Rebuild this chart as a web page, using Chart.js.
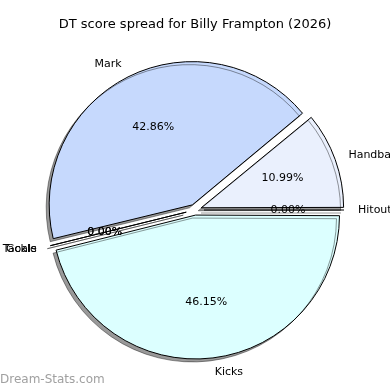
<!DOCTYPE html>
<html>
<head>
<meta charset="utf-8">
<script src="https://cdn.jsdelivr.net/npm/chart.js@4.4.1/dist/chart.umd.min.js"></script>
<style>
  body { margin: 0; background: #fff; }
  canvas { display: block; }
</style>
</head>
<body>
<canvas id="pie" width="390" height="390"></canvas>
<script>
// slices in clockwise order starting at 3 o'clock
const categories = ['Hitout', 'Kicks', 'Goals', 'Tackle', 'Mark', 'Handball'];
const scores = [0, 46.15, 0, 0, 42.86, 10.99];
const sliceColors = ['#ffe8e8', '#dcffff', '#fff2cc', '#e6ffe0', '#c6d9fd', '#eaf0fd'];

const titleText = 'DT score spread for Billy Frampton (2026)';
const EXPLODE = 9;   // px each slice is pushed out
const RADIUS = 140;

const total = scores.reduce((s, v) => s + v, 0);

// chart.js moves an arc by offset/4 * (1 + fix), so work back from the wanted distance
function sliceOffset(c) {
    const circ = c.raw / total * Math.PI * 2;
    const fix = 1 - Math.sin(Math.min(Math.PI, circ));
    return EXPLODE * 4 / (1 + fix);
}

const shadowPlugin = {
    id: 'shadow',
    beforeDatasetsDraw(chart) {
        const ctx = chart.ctx;
        ctx.save();
        ctx.shadowColor = 'rgba(0,0,0,0.4)';
        ctx.shadowOffsetX = -3;
        ctx.shadowOffsetY = 3;
        ctx.shadowBlur = 0;
    },
    afterDatasetsDraw(chart) {
        chart.ctx.restore();
    }
};

const labelPlugin = {
    id: 'pieLabels',
    afterDatasetsDraw(chart) {
        const ctx = chart.ctx;
        const meta = chart.getDatasetMeta(0);
        ctx.save();
        // zero slices are skipped by chart.js, draw them as lines
        meta.data.forEach((arc, i) => {
            if (scores[i] !== 0) return;
            const a = arc.startAngle;
            const ox = arc.x + Math.cos(a) * EXPLODE;
            const oy = arc.y + Math.sin(a) * EXPLODE;
            const ex = ox + Math.cos(a) * arc.outerRadius;
            const ey = oy + Math.sin(a) * arc.outerRadius;
            ctx.lineWidth = 1;
            ctx.strokeStyle = 'rgba(0,0,0,0.4)';
            ctx.beginPath();
            ctx.moveTo(ox - 3, oy + 3);
            ctx.lineTo(ex - 3, ey + 3);
            ctx.stroke();
            ctx.strokeStyle = '#000';
            ctx.beginPath();
            ctx.moveTo(ox, oy);
            ctx.lineTo(ex, ey);
            ctx.stroke();
        });

        ctx.fillStyle = '#000';
        ctx.font = '11px "DejaVu Sans"';
        ctx.textBaseline = 'middle';
        meta.data.forEach((arc, i) => {
            const mid = (arc.startAngle + arc.endAngle) / 2;
            const r = arc.outerRadius;
            const c = Math.cos(mid), s = Math.sin(mid);
            const lx = arc.x + c * (EXPLODE + 1.1 * r);
            const ly = arc.y + s * (EXPLODE + 1.1 * r);
            ctx.textAlign = c > 0 ? 'left' : 'right';
            ctx.fillText(categories[i], lx, ly);
            const px = arc.x + c * (EXPLODE + 0.6 * r);
            const py = arc.y + s * (EXPLODE + 0.6 * r);
            ctx.textAlign = 'center';
            ctx.fillText(scores[i].toFixed(2) + '%', px, py);
        });
        ctx.restore();
    },
    afterDraw(chart) {
        const ctx = chart.ctx;
        ctx.save();
        ctx.fillStyle = '#000';
        ctx.font = '13px "DejaVu Sans"';
        ctx.textAlign = 'center';
        ctx.textBaseline = 'middle';
        ctx.fillText(titleText, 195, 25);
        ctx.fillStyle = '#a0a0a0';
        ctx.font = '12px "DejaVu Sans"';
        ctx.textAlign = 'left';
        ctx.fillText('Dream-Stats.com', 0, 380);
        ctx.restore();
    }
};

new Chart(document.getElementById('pie'), {
    type: 'pie',
    data: {
        labels: categories,
        datasets: [{
            data: scores,
            backgroundColor: sliceColors,
            borderColor: '#000',
            borderWidth: 1,
            offset: sliceOffset,
            hoverOffset: 0,
            radius: RADIUS
        }]
    },
    options: {
        responsive: false,
        animation: false,
        rotation: 90,
        events: [],
        layout: { padding: { top: 40, bottom: 10, left: 0, right: 0 } },
        plugins: {
            legend: { display: false },
            tooltip: { enabled: false },
            title: { display: false }
        }
    },
    plugins: [shadowPlugin, labelPlugin]
});
</script>
</body>
</html>
